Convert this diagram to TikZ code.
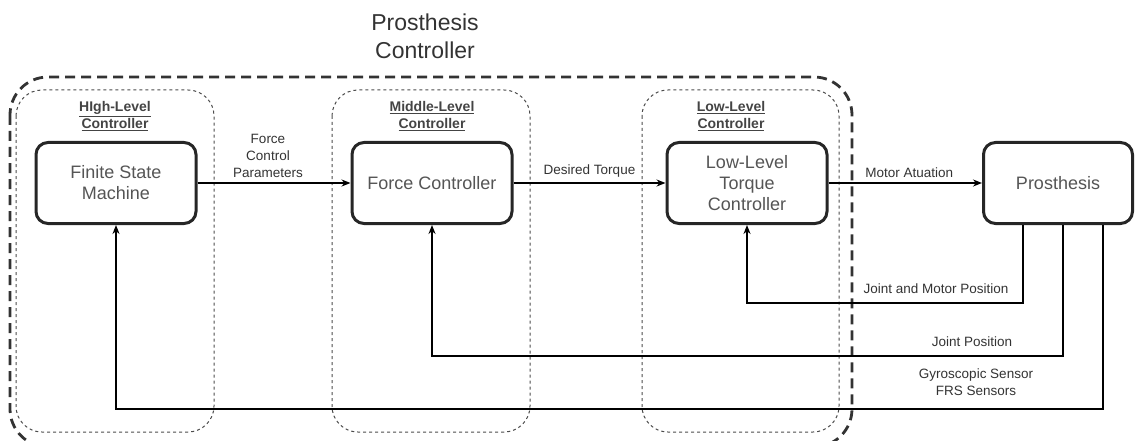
\documentclass[tikz,border=0pt]{standalone}
\usepackage{fontspec}
\setmainfont{Liberation Sans}
\usetikzlibrary{arrows.meta}
\definecolor{txtgrey}{HTML}{555555}
\definecolor{lblgrey}{HTML}{333333}
\definecolor{grpgrey}{HTML}{444444}
\tikzset{
  block/.style={draw=black!85, line width=3pt, rounded corners=12pt, fill=white,
    align=center, text=txtgrey, font=\fontsize{18}{21}\selectfont,
    minimum height=81pt, inner sep=2pt},
  group/.style={draw=black!70, line width=1pt, dash pattern=on 3pt off 3pt,
    rounded corners=26pt},
  outerbox/.style={draw=black!80, line width=2.8pt, dash pattern=on 10pt off 6pt,
    rounded corners=38pt},
  grouptitle/.style={font=\fontsize{14}{17}\bfseries\selectfont, text=grpgrey, align=center},
  lbl/.style={font=\fontsize{13.5}{17}\selectfont, text=lblgrey, align=center},
  flow/.style={line width=2pt, -{Stealth[length=9pt,width=7pt]}},
  fb/.style={line width=2pt, -{Stealth[length=9pt,width=7pt]}, rounded corners=0pt}
}
\newcommand{\ul}[1]{\underline{#1}}
\begin{document}
\begin{tikzpicture}[x=1pt,y=-1pt]
\useasboundingbox (0,0) rectangle (1135,441);
\clip (0,0) rectangle (1135,441);

% title of the controller group
\node[font=\fontsize{23}{28}\selectfont, text=lblgrey, align=center] (title) at (425,36) {Prosthesis\\Controller};

% outer controller boundary
\draw[outerbox] (10,77) rectangle (852,447);

% the three controller levels
\draw[group] (16,90) rectangle (214,432);
\draw[group] (332,90) rectangle (530,432);
\draw[group] (642,90) rectangle (839,432);
\node[grouptitle] (ghigh) at (115,116) {\ul{HIgh-Level}\\\ul{Controller}};
\node[grouptitle] (gmid) at (432,116) {\ul{Middle-Level}\\\ul{Controller}};
\node[grouptitle] (glow) at (731,116) {\ul{Low-Level}\\\ul{Controller}};

% blocks
\node[block, minimum width=160pt] (fsm) at (116,183) {Finite State\\Machine};
\node[block, minimum width=160pt] (fc) at (432,183) {Force Controller};
\node[block, minimum width=160pt] (ltc) at (747,183) {Low-Level\\Torque\\Controller};
\node[block, minimum width=149pt] (pro) at (1058,183) {Prosthesis};

% forward path
\draw[flow] (fsm.east) -- node[lbl, above=1pt, xshift=-6pt] {Force\\Control\\Parameters} (fc.west);
\draw[flow] (fc.east) -- node[lbl, above=1pt] {Desired Torque} (ltc.west);
\draw[flow] (ltc.east) -- node[lbl, above=1pt, xshift=4pt] {Motor Atuation} (pro.west);

% feedback paths
\coordinate (f1) at ([xshift=-35pt]pro.south);
\coordinate (f2) at ([xshift=5pt]pro.south);
\coordinate (f3) at ([xshift=45pt]pro.south);
\draw[fb] (f1) -- ++(0,78) -| (ltc.south);
\draw[fb] (f2) -- ++(0,131) -| (fc.south);
\draw[fb] (f3) -- ++(0,184) -| (fsm.south);

\node[lbl] (l1) at (936,289) {Joint and Motor Position};
\node[lbl] (l2) at (972,342) {Joint Position};
\node[lbl] (l3) at (976,382) {Gyroscopic Sensor\\FRS Sensors};
\end{tikzpicture}
\end{document}
